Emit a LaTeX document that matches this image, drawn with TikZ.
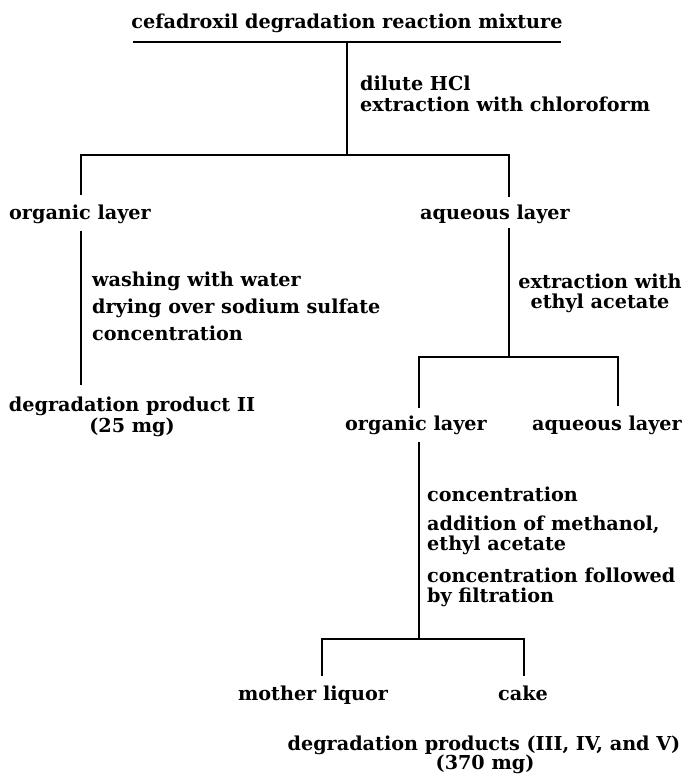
\documentclass[tikz,border=0pt]{standalone}
\usepackage{fontspec}
\setmainfont{DejaVu Serif}
\begin{document}
\begin{tikzpicture}[x=1pt,y=-1pt,
  lbl/.style={inner sep=0pt, font=\fontsize{19.2}{20}\selectfont\bfseries},
  ln/.style={line width=1.8pt}]
\useasboundingbox[fill=white] (0,0) rectangle (686,776);
% texts
\node[lbl,anchor=base] (title) at (347,29) {cefadroxil degradation reaction mixture};
\node[lbl,anchor=base west] (s1a) at (360,90) {dilute HCl};
\node[lbl,anchor=base west] (s1b) at (360,111) {extraction with chloroform};
\node[lbl,anchor=base] (org1) at (80,219) {organic layer};
\node[lbl,anchor=base] (aq1) at (495,219) {aqueous layer};
\node[lbl,anchor=base west] (s2a) at (92,286) {washing with water};
\node[lbl,anchor=base west] (s2b) at (92,313) {drying over sodium sulfate};
\node[lbl,anchor=base west] (s2c) at (92,340) {concentration};
\node[lbl,anchor=base] (p2a) at (132,411) {degradation product II};
\node[lbl,anchor=base] (p2b) at (132,432) {(25 mg)};
\node[lbl,anchor=base] (s3a) at (600,288) {extraction with};
\node[lbl,anchor=base] (s3b) at (600,308) {ethyl acetate};
\node[lbl,anchor=base] (org2) at (416,430) {organic layer};
\node[lbl,anchor=base] (aq2) at (607,430) {aqueous layer};
\node[lbl,anchor=base west] (s4a) at (427,501) {concentration};
\node[lbl,anchor=base west] (s4b) at (427,530) {addition of methanol,};
\node[lbl,anchor=base west] (s4c) at (427,550) {ethyl acetate};
\node[lbl,anchor=base west] (s4d) at (427,582) {concentration followed};
\node[lbl,anchor=base west] (s4e) at (427,602) {by filtration};
\node[lbl,anchor=base] (ml) at (313,700) {mother liquor};
\node[lbl,anchor=base] (cake) at (523,700) {cake};
\node[lbl,anchor=base] (p3a) at (484,750) {degradation products (III, IV, and V)};
\node[lbl,anchor=base] (p3b) at (485,769) {(370 mg)};
% junction points
\coordinate (u1) at (133,42);
\coordinate (u2) at (561,42);
\coordinate (t0) at (347,42);
\coordinate (t1) at (347,155);
\coordinate (b1l) at (81,195);
\coordinate (b1r) at (509,197);
\coordinate (l1a) at (81,231);
\coordinate (l1b) at (81,385);
\coordinate (r1a) at (509,228);
\coordinate (r1b) at (509,357);
\coordinate (b2l) at (419,408);
\coordinate (b2r) at (618,406);
\coordinate (m1a) at (419,442);
\coordinate (m1b) at (419,639);
\coordinate (b3l) at (322,676);
\coordinate (b3r) at (524,676);
% connectors
\draw[ln] (u1) -- (u2);
\draw[ln] (t0) -- (t1);
\draw[ln] (b1l) |- (t1) -| (b1r);
\draw[ln] (l1a) -- (l1b);
\draw[ln] (r1a) -- (r1b);
\draw[ln] (b2l) |- (r1b) -| (b2r);
\draw[ln] (m1a) -- (m1b);
\draw[ln] (b3l) |- (m1b) -| (b3r);
\end{tikzpicture}
\end{document}
